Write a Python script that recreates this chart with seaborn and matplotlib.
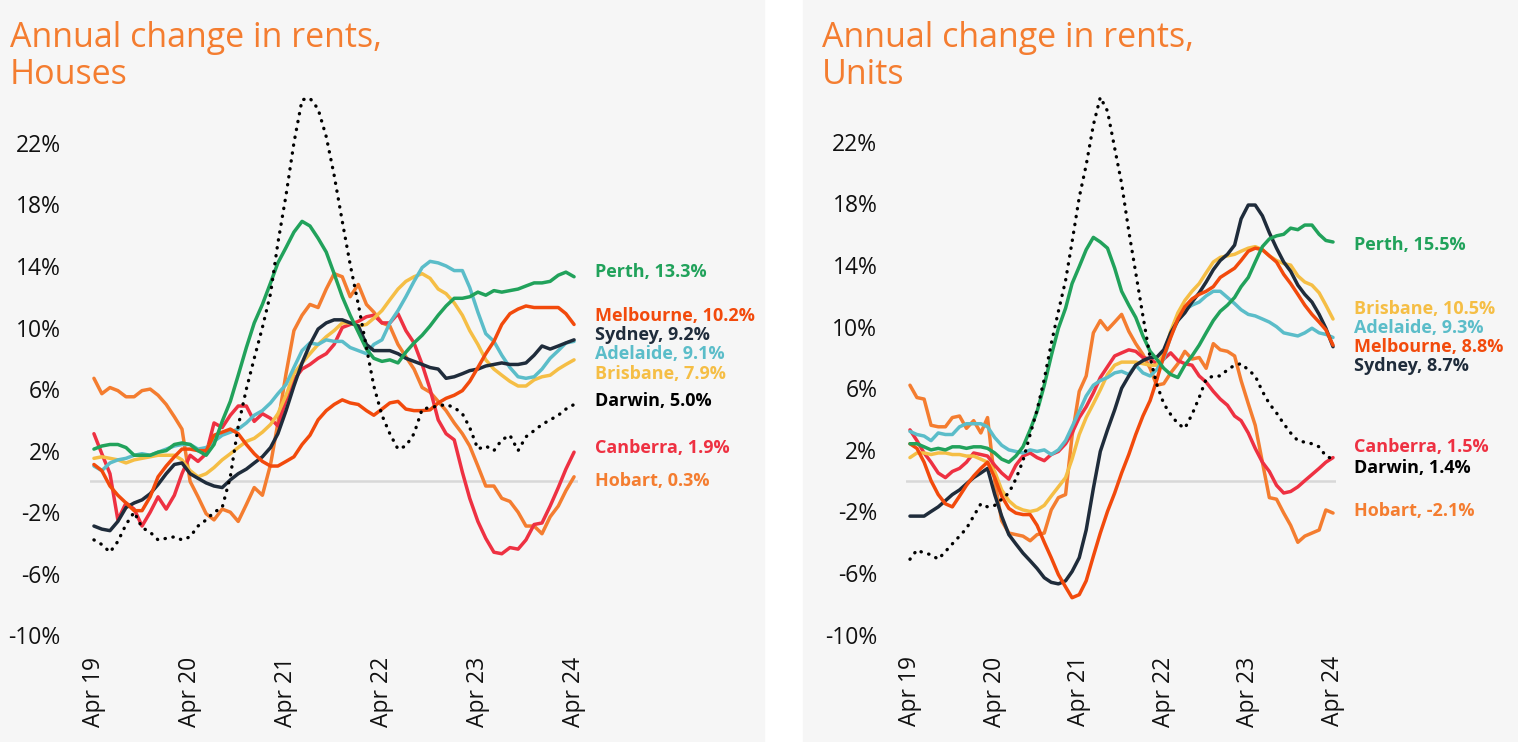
import matplotlib
matplotlib.use("Agg")
import matplotlib.pyplot as plt
from matplotlib.patches import Rectangle
import pandas as pd
import seaborn as sns

# months Apr 2019 .. Apr 2024
months = pd.date_range("2019-04-01", "2024-04-01", freq="MS")
tick_labels = ["Apr 19", "Apr 20", "Apr 21", "Apr 22", "Apr 23", "Apr 24"]
y_ticks = [-10, -6, -2, 2, 6, 10, 14, 18, 22]
cities = ["Hobart", "Canberra", "Brisbane", "Adelaide", "Sydney", "Melbourne", "Perth", "Darwin"]

# Houses, annual change %
perth_h = [2.1, 2.3, 2.4, 2.4, 2.2, 1.7, 1.7, 1.7, 1.9, 2.0, 2.4, 2.5, 2.4, 2.0, 1.7, 2.4, 3.9, 5.2, 6.9, 8.7,
           10.3, 11.5, 12.9, 14.2, 15.2, 16.2, 16.9, 16.6, 15.8, 14.9, 13.5, 12.0, 10.8, 9.7, 8.6, 8.0, 7.8, 7.9, 7.7, 8.4,
           9.0, 9.5, 10.1, 10.8, 11.4, 11.9, 11.9, 12.0, 12.3, 12.1, 12.4, 12.3, 12.4, 12.5, 12.7, 12.9, 12.9, 13.0, 13.4, 13.6,
           13.3]
melb_h = [1.1, 0.7, -0.3, -0.9, -1.4, -1.9, -1.9, -1.0, 0.3, 1.0, 1.6, 2.1, 2.1, 2.0, 2.0, 3.0, 3.2, 3.4, 3.1, 2.4,
          1.8, 1.3, 1.0, 1.0, 1.3, 1.6, 2.4, 3.0, 4.0, 4.6, 5.0, 5.3, 5.1, 5.0, 4.6, 4.3, 4.7, 5.1, 5.2, 4.7,
          4.6, 4.6, 4.65, 5.1, 5.4, 5.6, 5.9, 6.5, 7.4, 8.3, 9.1, 10.2, 10.9, 11.2, 11.4, 11.3, 11.3, 11.3, 11.3, 10.9,
          10.2]
syd_h = [-2.9, -3.1, -3.2, -2.6, -1.7, -1.4, -1.2, -0.8, -0.2, 0.5, 1.1, 1.2, 0.5, 0.2, -0.1, -0.3, -0.4, 0.1, 0.5, 0.8,
         1.2, 1.6, 2.2, 3.1, 4.6, 6.2, 7.7, 8.9, 9.9, 10.3, 10.5, 10.5, 10.3, 10.1, 8.9, 8.5, 8.5, 8.5, 8.3, 8.0,
         7.8, 7.6, 7.4, 7.3, 6.7, 6.8, 7.0, 7.2, 7.3, 7.5, 7.6, 7.7, 7.6, 7.6, 7.7, 8.2, 8.8, 8.6, 8.8, 9.0,
         9.2]
adl_h = [1.0, 0.7, 1.2, 1.4, 1.5, 1.7, 1.8, 1.7, 1.9, 2.1, 2.3, 2.4, 2.4, 2.1, 2.2, 2.6, 3.0, 3.2, 3.4, 3.8,
         4.3, 4.6, 5.1, 5.7, 6.3, 7.4, 8.5, 9.0, 8.9, 9.2, 9.1, 9.1, 8.7, 8.5, 8.3, 8.9, 9.2, 10.3, 11.1, 12.0,
         13.0, 13.9, 14.3, 14.2, 14.0, 13.7, 13.7, 12.6, 11.0, 9.6, 9.1, 8.2, 7.4, 6.8, 6.7, 6.8, 7.3, 8.0, 8.5, 9.0,
         9.1]
bne_h = [1.5, 1.6, 1.5, 1.4, 1.2, 1.4, 1.5, 1.6, 1.7, 1.7, 1.7, 1.4, 0.7, 0.3, 0.5, 0.9, 1.4, 1.8, 2.2, 2.6,
         2.8, 3.2, 3.7, 4.4, 5.6, 7.0, 7.7, 8.3, 8.9, 9.4, 9.8, 10.3, 10.3, 10.1, 10.2, 10.6, 11.1, 11.8, 12.5, 13.0,
         13.3, 13.5, 13.2, 12.5, 12.2, 11.6, 10.8, 9.8, 8.9, 7.9, 7.3, 6.9, 6.5, 6.2, 6.2, 6.6, 6.8, 6.9, 7.3, 7.6,
         7.9]
drw_h = [-3.8, -4.1, -4.6, -3.9, -2.8, -2.0, -3.0, -3.3, -3.8, -3.7, -3.6, -3.8, -3.6, -2.9, -2.5, -2.0, -1.7, 0.3, 3.6, 6.0,
         8.0, 10.0, 12.2, 15.5, 18.6, 22.0, 24.8, 24.9, 24.2, 22.4, 19.9, 16.9, 14.1, 11.5, 8.7, 6.2, 4.3, 3.1, 2.1, 2.3,
         3.1, 4.7, 4.8, 4.9, 5.0, 4.8, 4.4, 3.5, 2.1, 2.3, 2.0, 2.7, 3.0, 2.0, 2.9, 3.3, 3.7, 4.0, 4.3, 4.7,
         5.0]
cbr_h = [3.1, 1.8, 0.5, -2.5, -1.4, -1.8, -2.9, -2.0, -1.0, -1.8, -0.9, 0.5, 1.7, 1.3, 1.8, 3.8, 3.5, 4.3, 4.9, 4.9,
         3.9, 4.4, 4.1, 3.6, 5.3, 6.6, 7.3, 7.6, 8.0, 8.3, 8.9, 10.0, 10.2, 10.4, 10.7, 10.8, 10.3, 10.3, 10.9, 9.8,
         9.0, 7.6, 6.0, 4.0, 3.1, 2.7, 0.6, -1.1, -2.6, -3.7, -4.6, -4.7, -4.3, -4.4, -3.8, -2.8, -2.7, -1.6, -0.4, 0.8,
         1.9]
hob_h = [6.7, 5.7, 6.1, 5.9, 5.5, 5.5, 5.9, 6.0, 5.6, 5.0, 4.2, 3.4, 0.0, -1.0, -2.1, -2.5, -1.8, -2.0, -2.6, -1.5,
         -0.4, -0.9, 1.1, 3.8, 7.0, 9.8, 10.8, 11.5, 11.3, 12.5, 13.5, 13.3, 12.0, 12.8, 11.5, 11.0, 10.3, 10.1, 8.9, 8.1,
         7.3, 6.1, 5.8, 5.2, 4.6, 3.8, 3.1, 2.3, 1.0, -0.3, -0.3, -1.1, -1.3, -2.0, -2.9, -2.9, -3.4, -2.3, -1.6, -0.6,
         0.3]

# Units, annual change %
perth_u = [2.4, 2.4, 2.2, 2.0, 2.1, 2.0, 2.2, 2.2, 2.1, 2.2, 2.2, 2.1, 1.8, 1.4, 1.2, 1.6, 2.2, 3.3, 4.5, 6.2,
           8.1, 9.9, 11.2, 12.8, 13.9, 15.0, 15.8, 15.5, 15.1, 13.8, 12.3, 11.4, 10.6, 9.4, 8.4, 7.9, 7.3, 6.9, 6.7, 7.5,
           8.1, 8.8, 9.6, 10.4, 11.0, 11.4, 11.9, 12.6, 13.2, 14.2, 15.2, 15.7, 15.9, 16.0, 16.4, 16.3, 16.6, 16.6, 16.0, 15.6,
           15.5]
bne_u = [1.5, 1.8, 1.8, 1.7, 1.8, 1.8, 1.7, 1.7, 1.6, 1.6, 1.4, 1.2, 0.6, -0.6, -1.3, -1.7, -1.9, -2.0, -1.9, -1.6,
         -1.0, -0.4, 0.2, 1.4, 3.0, 4.1, 5.0, 5.9, 6.9, 7.5, 7.7, 7.7, 7.7, 7.6, 7.5, 7.5, 8.2, 9.7, 10.9, 11.7,
         12.3, 12.8, 13.5, 14.2, 14.5, 14.6, 14.7, 14.9, 15.1, 15.2, 15.0, 14.6, 14.3, 14.1, 14.0, 13.3, 12.9, 12.7, 12.2, 11.4,
         10.5]
adl_u = [3.2, 3.0, 2.9, 2.6, 3.1, 3.0, 3.0, 3.5, 3.7, 3.7, 3.7, 3.5, 2.8, 2.3, 2.0, 1.9, 1.8, 2.0, 1.9, 2.0,
         1.7, 2.0, 2.6, 3.5, 4.5, 5.5, 6.2, 6.5, 6.7, 7.0, 7.1, 6.9, 7.5, 7.0, 6.8, 7.2, 7.9, 9.4, 10.4, 11.1,
         11.4, 11.6, 12.0, 12.3, 12.3, 11.9, 11.5, 11.1, 10.8, 10.7, 10.5, 10.3, 10.0, 9.6, 9.5, 9.4, 9.6, 9.9, 9.6, 9.5,
         9.3]
melb_u = [2.4, 2.1, 1.2, 0.0, -0.9, -1.5, -1.7, -1.0, -0.3, 0.3, 0.8, 1.2, 0.2, -1.0, -1.8, -2.1, -2.2, -2.2, -2.9, -4.0,
          -5.0, -6.1, -6.9, -7.6, -7.4, -6.5, -4.9, -3.4, -2.0, -0.8, 0.5, 1.7, 3.0, 4.2, 5.2, 6.5, 8.1, 9.3, 10.5, 11.3,
          11.8, 12.1, 12.3, 12.6, 13.2, 13.5, 13.8, 14.3, 14.9, 15.1, 15.0, 14.6, 14.2, 13.4, 12.8, 12.1, 11.4, 10.8, 10.3, 9.8,
          8.8]
syd_u = [-2.3, -2.3, -2.3, -2.0, -1.7, -1.3, -0.9, -0.6, -0.2, 0.2, 0.5, 0.8, -0.9, -2.3, -3.5, -4.1, -4.7, -5.2, -5.7, -6.3,
         -6.6, -6.7, -6.5, -5.9, -5.0, -3.2, -0.5, 1.9, 3.3, 4.6, 6.0, 6.8, 7.5, 7.8, 8.0, 8.0, 8.5, 9.6, 10.4, 10.9,
         11.6, 12.2, 12.9, 13.7, 14.3, 14.7, 15.3, 17.0, 17.9, 17.9, 17.2, 16.1, 15.1, 14.2, 13.6, 12.7, 12.1, 11.6, 10.8, 9.9,
         8.7]
drw_u = [-5.1, -4.5, -4.7, -4.8, -5.1, -4.6, -4.1, -3.6, -3.1, -2.3, -1.5, -1.7, -1.6, -1.2, -0.8, 0.1, 1.3, 3.0, 4.6, 6.6,
         8.9, 11.0, 13.0, 15.5, 18.4, 20.5, 23.1, 24.9, 24.0, 21.6, 19.3, 16.2, 13.5, 10.7, 8.0, 6.3, 5.0, 4.3, 3.7, 3.4,
         4.3, 5.4, 6.6, 6.8, 6.8, 7.2, 7.5, 7.6, 7.2, 6.8, 5.8, 5.0, 4.4, 3.7, 3.1, 2.6, 2.5, 2.4, 2.2, 1.6,
         1.4]
cbr_u = [3.3, 2.6, 1.8, 1.2, 0.5, 0.2, 0.6, 0.8, 1.2, 1.8, 1.7, 1.6, 1.0, 0.5, 0.1, 1.0, 1.6, 1.8, 1.5, 1.3,
         1.7, 1.9, 2.4, 3.1, 4.1, 4.8, 5.7, 6.7, 7.4, 8.1, 8.3, 8.5, 8.4, 8.0, 7.9, 7.6, 7.9, 8.3, 7.8, 7.6,
         7.5, 6.8, 6.4, 5.8, 5.3, 4.9, 4.2, 3.9, 3.1, 2.1, 1.2, 0.6, -0.3, -0.8, -0.7, -0.4, 0.0, 0.4, 0.8, 1.2,
         1.5]
hob_u = [6.2, 5.4, 5.3, 3.6, 3.5, 3.5, 4.1, 4.2, 3.4, 3.9, 3.1, 4.1, 0.0, -2.6, -3.4, -3.5, -3.6, -3.9, -3.5, -3.4,
         -1.9, -1.1, -0.9, 2.9, 5.8, 6.8, 9.6, 10.4, 9.8, 10.3, 10.8, 9.7, 8.9, 8.2, 7.3, 6.2, 6.3, 7.0, 7.6, 8.4,
         7.9, 8.0, 7.3, 8.9, 8.5, 8.4, 8.1, 6.5, 5.0, 3.6, 1.2, -1.1, -1.2, -2.1, -2.9, -4.0, -3.6, -3.4, -3.2, -1.9,
         -2.1]

houses = {"Hobart": hob_h, "Canberra": cbr_h, "Brisbane": bne_h, "Adelaide": adl_h,
          "Sydney": syd_h, "Melbourne": melb_h, "Perth": perth_h, "Darwin": drw_h}
units = {"Hobart": hob_u, "Canberra": cbr_u, "Brisbane": bne_u, "Adelaide": adl_u,
         "Sydney": syd_u, "Melbourne": melb_u, "Perth": perth_u, "Darwin": drw_u}

colors = {"Perth": "#21a25b", "Melbourne": "#f24a0c", "Sydney": "#1f2c3b", "Adelaide": "#5bbdc9",
          "Brisbane": "#f5be45", "Darwin": "#000000", "Canberra": "#ee3142", "Hobart": "#f47d30"}
title_color = "#f47d30"
bg = "#f6f6f6"

sns.set_theme(style="white")
plt.rcParams["font.family"] = ["Open Sans", "DejaVu Sans"]

fig = plt.figure(figsize=(15.18, 7.42), dpi=100)
fig.patch.set_facecolor("white")
fig.patches.append(Rectangle((0, 0), 764 / 1518, 1, transform=fig.transFigure, color=bg, zorder=-10))
fig.patches.append(Rectangle((803 / 1518, 0), 715 / 1518, 1, transform=fig.transFigure, color=bg, zorder=-10))


def draw_panel(ax, data, label_y):
    ax.set_facecolor("none")
    ax.axhline(0, color="#d8d8d8", lw=1.8, zorder=1)
    for city in cities:
        vals = data[city]
        if city == "Darwin":
            sns.lineplot(x=months, y=vals, ax=ax, color=colors[city], lw=2.4,
                         linestyle=(0, (0.1, 2.3)), dash_capstyle="round", zorder=3)
        else:
            sns.lineplot(x=months, y=vals, ax=ax, color=colors[city], lw=2.5, zorder=2)
        ax.annotate(f"{city}, {vals[-1]:.1f}%", xy=(months[-1], label_y[city]),
                    xytext=(15, 0), textcoords="offset points", va="center", ha="left",
                    fontsize=13, fontweight="bold", color=colors[city], annotation_clip=False)
    ax.set_xlim(months[0] - pd.Timedelta(days=15), months[-1] + pd.Timedelta(days=15))
    ax.set_ylim(-10.5, 25.5)
    ax.set_yticks(y_ticks)
    ax.set_yticklabels([f"{t}%" for t in y_ticks])
    ax.set_xticks(months[::12])
    ax.set_xticklabels(tick_labels, rotation=90)
    ax.tick_params(axis="y", length=0, pad=21, labelsize=16.5, colors="#111111")
    ax.tick_params(axis="x", length=0, pad=10, labelsize=16.5, colors="#111111")
    ax.set_xlabel("")
    ax.set_ylabel("")
    sns.despine(ax=ax, left=True, bottom=True)
    ax.grid(False)


# label positions (in % units) for the end-of-line labels
label_y_h = {"Perth": 13.6, "Melbourne": 10.75, "Sydney": 9.5, "Adelaide": 8.25, "Brisbane": 6.95,
             "Darwin": 5.25, "Canberra": 2.2, "Hobart": 0.0}
label_y_u = {"Perth": 15.3, "Brisbane": 11.15, "Adelaide": 9.9, "Melbourne": 8.7, "Sydney": 7.45,
             "Canberra": 2.2, "Darwin": 0.8, "Hobart": -2.0}

ax1 = fig.add_axes([90 / 1518, 99 / 742, 488 / 1518, 554 / 742])
ax2 = fig.add_axes([906.5 / 1518, 99.6 / 742, 430 / 1518, 554.4 / 742])
draw_panel(ax1, houses, label_y_h)
draw_panel(ax2, units, label_y_u)

fig.text(10 / 1518, 1 - 21 / 742, "Annual change in rents,\nHouses", color=title_color,
         fontsize=24.5, va="top", ha="left", linespacing=1.1)
fig.text(822 / 1518, 1 - 21 / 742, "Annual change in rents,\nUnits", color=title_color,
         fontsize=24.5, va="top", ha="left", linespacing=1.1)

fig.savefig("out.png", dpi=100)
